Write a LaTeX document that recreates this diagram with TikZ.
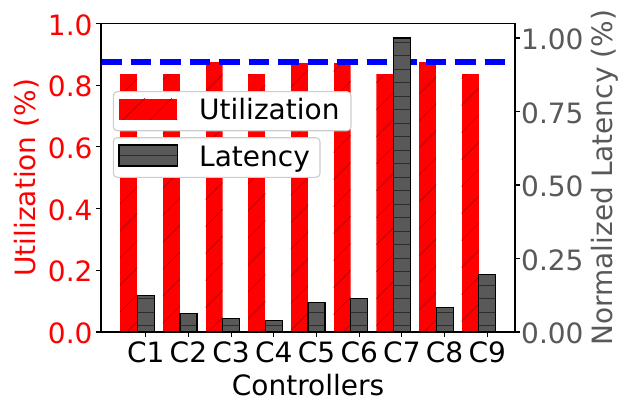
\documentclass[tikz,border=0pt]{standalone}
\usepackage{xcolor}
\usepackage{fontspec}
\setmainfont{DejaVu Sans}
\usepackage{tikz}
\usetikzlibrary{positioning}

\begin{document}
\begin{tikzpicture}[
    x=1pt, y=-1pt,
    every node/.style={font=\fontsize{28}{33}\selectfont, inner sep=0pt},
    spine/.style={draw=black, line width=1.1pt},
    tickmark/.style={draw=black, line width=1.1pt},
    utilbar/.style={fill=utilred},
    latbar/.style={fill=latgray},
    latedge/.style={draw=black, line width=1.2pt},
    redhatch/.style={draw=hatchred, line width=0.6pt},
    grayhatch/.style={draw=hatchgray, line width=0.8pt},
    thresh/.style={draw=threshblue, line width=5.6pt, dash pattern=on 20.6pt off 8.9pt},
    legendbox/.style={draw=legendgray, fill=white, line width=1.1pt, rounded corners=4pt}
]

% Colors
\definecolor{utilred}{RGB}{255,0,0}
\definecolor{hatchred}{RGB}{175,0,0}
\definecolor{latgray}{RGB}{89,89,89}
\definecolor{hatchgray}{RGB}{45,45,45}
\definecolor{axisgray}{RGB}{89,89,89}
\definecolor{threshblue}{RGB}{0,0,255}
\definecolor{legendgray}{RGB}{204,204,204}

\useasboundingbox (0,0) rectangle (620,401);

% Utilization bars
\foreach \i/\uv in {1/0.836, 2/0.836, 3/0.875, 4/0.836, 5/0.872, 6/0.872, 7/0.836, 8/0.875, 9/0.836} {
  \pgfmathsetmacro\xa{145.7+(\i-1)*42.7-25.6}
  \pgfmathsetmacro\xb{\xa+17.1}
  \pgfmathsetmacro\yt{332-\uv*308.5}
  \begin{scope}
    \clip (\xa,\yt) rectangle (\xb,332);
    \fill[utilbar] (\xa,\yt) rectangle (\xb,332);
    \foreach \k in {6,...,31}
      \draw[redhatch] ({\k*27-340},340) -- ({\k*27},0);
  \end{scope}
}

% Threshold
\coordinate (thrL) at (101,62);
\coordinate (thrR) at (515,62);
\draw[thresh] (thrL) -- (thrR);

% Latency bars
\foreach \i/\lv in {1/0.123, 2/0.062, 3/0.045, 4/0.040, 5/0.101, 6/0.113, 7/1.0, 8/0.084, 9/0.196} {
  \pgfmathsetmacro\xa{145.7+(\i-1)*42.7-8.5}
  \pgfmathsetmacro\xb{\xa+17}
  \pgfmathsetmacro\yt{332-\lv*294}
  \begin{scope}
    \clip (\xa,\yt) rectangle (\xb,332);
    \fill[latbar] (\xa,\yt) rectangle (\xb,332);
    \foreach \k in {0,...,23}
      \draw[grayhatch] (\xa,{15.3+\k*13.5}) -- (\xb,{15.3+\k*13.5});
  \end{scope}
  \draw[latedge] (\xa,\yt) rectangle (\xb,332);
}

% Axes
\draw[spine] (101,23.5) rectangle (515,332);

\foreach \val/\lab [count=\n] in {0/0.0, 0.2/0.2, 0.4/0.4, 0.6/0.6, 0.8/0.8, 1/1.0} {
  \draw[tickmark] (96.1,{332-\val*308.5}) -- (101,{332-\val*308.5});
  \node[anchor=east, text=utilred] (uy\n) at (92.7,{333.5-\val*308.5}) {\lab};
}

\foreach \val/\lab [count=\n] in {0/0.00, 0.25/0.25, 0.5/0.50, 0.75/0.75, 1/1.00} {
  \draw[tickmark] (515,{332-\val*294}) -- (519.9,{332-\val*294});
  \node[anchor=west, text=axisgray] (ly\n) at (521,{333.5-\val*294}) {\lab};
}

\foreach \i in {1,...,9} {
  \draw[tickmark] ({145.7+(\i-1)*42.7},332) -- ++(0,4.9);
  \node (c\i) at ({145.7+(\i-1)*42.7},352.5) {C\i};
}

% Axis labels
\node (xlab) at (308,385) {Controllers};
\node[rotate=90, text=utilred] (ulab) at (27,177.8) {Utilization (\%)};
\node[rotate=90, text=axisgray] (llab) at (604.5,177.8) {Normalized Latency (\%)};

% Legend
\draw[legendbox] (113.3,91.7) rectangle (351,130.7);
\begin{scope}
  \clip (119,99) rectangle (177.3,119.7);
  \fill[utilbar] (119,99) rectangle (177.3,119.7);
  \foreach \k in {8,...,12}
    \draw[redhatch] ({\k*27-340},340) -- ({\k*27},0);
\end{scope}
\node[anchor=base west] (utilkey) at (199,119.3) {Utilization};

\draw[legendbox] (113.3,137.7) rectangle (320,177.3);
\fill[latbar] (119,145) rectangle (177.3,166);
\draw[grayhatch] (119,155.5) -- (177.3,155.5);
\draw[latedge] (119,145) rectangle (177.3,166);
\node[anchor=base west] (latkey) at (199,166) {Latency};

\end{tikzpicture}
\end{document}
